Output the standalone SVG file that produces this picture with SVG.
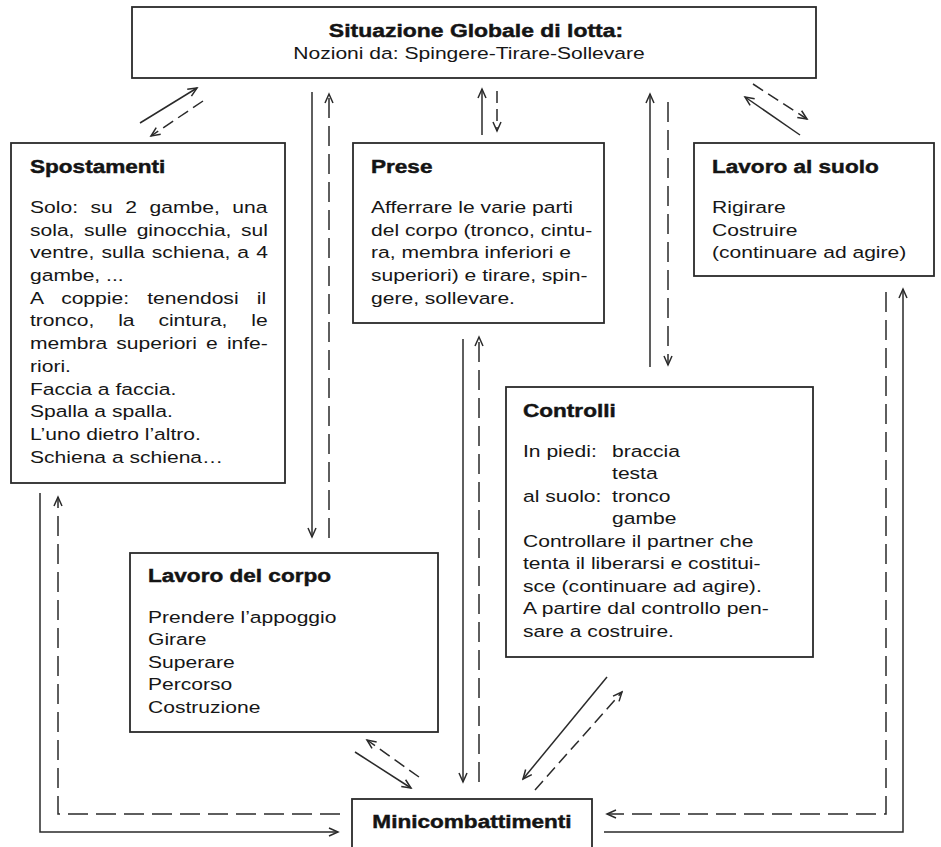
<svg xmlns="http://www.w3.org/2000/svg" width="941" height="847" viewBox="0 0 941 847">
<defs>
<style>
.box{fill:#fff;stroke:#2a2a2a;stroke-width:1.8}
.tb{font-family:"Liberation Sans",Arial,sans-serif;font-weight:bold;font-size:18.5px;fill:#141414;stroke:#141414;stroke-width:0.45}
.tx{font-family:"Liberation Sans",Arial,sans-serif;font-size:17px;fill:#161616}
.s{fill:none;stroke:#2a2a2a;stroke-width:1.5}
.d{fill:none;stroke:#2a2a2a;stroke-width:1.5;stroke-dasharray:20 8}
.dd{fill:none;stroke:#2a2a2a;stroke-width:1.5;stroke-dasharray:12 6}
</style>
<marker id="ah" markerWidth="12" markerHeight="10" refX="10" refY="5" orient="auto" markerUnits="userSpaceOnUse" viewBox="0 0 12 10">
<path d="M1,1 L10,5 L1,9" fill="none" stroke="#2a2a2a" stroke-width="1.5" stroke-dasharray="none"/>
</marker>
</defs>
<rect width="941" height="847" fill="#fff"/>

<g id="connectors">
<path class="s" d="M140,123 L197,88" marker-end="url(#ah)"/>
<path class="dd" d="M203,101 L151,136" marker-end="url(#ah)"/>
<path class="s" d="M312,92 V537" marker-end="url(#ah)"/>
<path class="d" d="M329,538 V94" marker-end="url(#ah)"/>
<path class="s" d="M482,135 V89" marker-end="url(#ah)"/>
<path class="dd" d="M497,91 V131" marker-end="url(#ah)"/>
<path class="s" d="M650,367 V94" marker-end="url(#ah)"/>
<path class="d" d="M668,102 V365" marker-end="url(#ah)"/>
<path class="s" d="M800,135 L745,97" marker-end="url(#ah)"/>
<path class="dd" d="M753,84 L807,119" marker-end="url(#ah)"/>
<path class="s" d="M463,339 V782" marker-end="url(#ah)"/>
<path class="d" d="M479,782 V337" marker-end="url(#ah)"/>
<path class="s" d="M355,752 L411,788" marker-end="url(#ah)"/>
<path class="dd" d="M419,777 L367,740" marker-end="url(#ah)"/>
<path class="s" d="M607,677 L523,779" marker-end="url(#ah)"/>
<path class="dd" d="M535,790 L622,692" marker-end="url(#ah)"/>
<path class="s" d="M40,493 V832 H338" marker-end="url(#ah)"/>
<path class="d" d="M340,814 H58 V497" marker-end="url(#ah)"/>
<path class="s" d="M604,832 H903 V289" marker-end="url(#ah)"/>
<path class="d" d="M886,292 V814 H607" marker-end="url(#ah)"/>
</g>

<g id="situazione">
<rect class="box" x="132" y="7" width="684" height="71"/>
<g transform="translate(476 0) scale(1.24 1)"><text class="tb" x="0" y="37" text-anchor="middle">Situazione Globale di lotta:</text></g>
<g transform="translate(469 0) scale(1.24 1)"><text class="tx" x="0" y="59" text-anchor="middle">Nozioni da: Spingere-Tirare-Sollevare</text></g>
</g>

<g id="spostamenti">
<rect class="box" x="11" y="143" width="274" height="340"/>
<g transform="translate(30 0) scale(1.22 1)"><text class="tb" x="0" y="173">Spostamenti</text></g>
<g transform="translate(30 0) scale(1.24 1)">
<text class="tx" x="0" y="213" style="word-spacing:5.4px">Solo: su 2 gambe, una</text>
<text class="tx" x="0" y="235.7" style="word-spacing:2.9px">sola, sulle ginocchia, sul</text>
<text class="tx" x="0" y="258.4" style="word-spacing:1px">ventre, sulla schiena, a 4</text>
<text class="tx" x="0" y="281.1">gambe, ...</text>
<text class="tx" x="0" y="303.8" style="word-spacing:10px">A coppie: tenendosi il</text>
<text class="tx" x="0" y="326.5" style="word-spacing:14.5px">tronco, la cintura, le</text>
<text class="tx" x="0" y="349.2" style="word-spacing:2.6px">membra superiori e infe-</text>
<text class="tx" x="0" y="371.9">riori.</text>
<text class="tx" x="0" y="394.6">Faccia a faccia.</text>
<text class="tx" x="0" y="417.3">Spalla a spalla.</text>
<text class="tx" x="0" y="440">L’uno dietro l’altro.</text>
<text class="tx" x="0" y="462.7">Schiena a schiena…</text>
</g>
</g>

<g id="prese">
<rect class="box" x="353" y="143" width="251" height="180"/>
<g transform="translate(371 0) scale(1.22 1)"><text class="tb" x="0" y="173">Prese</text></g>
<g transform="translate(371 0) scale(1.24 1)">
<text class="tx" x="0" y="213">Afferrare le varie parti</text>
<text class="tx" x="0" y="235.7">del corpo (tronco, cintu-</text>
<text class="tx" x="0" y="258.4">ra, membra inferiori e</text>
<text class="tx" x="0" y="281.1">superiori) e tirare, spin-</text>
<text class="tx" x="0" y="303.8">gere, sollevare.</text>
</g>
</g>

<g id="lavoro-suolo">
<rect class="box" x="694" y="143" width="240" height="133"/>
<g transform="translate(712 0) scale(1.22 1)"><text class="tb" x="0" y="173">Lavoro al suolo</text></g>
<g transform="translate(712 0) scale(1.24 1)">
<text class="tx" x="0" y="213">Rigirare</text>
<text class="tx" x="0" y="235.7">Costruire</text>
<text class="tx" x="0" y="258.4">(continuare ad agire)</text>
</g>
</g>

<g id="controlli">
<rect class="box" x="506" y="387" width="307" height="270"/>
<g transform="translate(523 0) scale(1.22 1)"><text class="tb" x="0" y="417">Controlli</text></g>
<g transform="translate(523 0) scale(1.24 1)">
<text class="tx" x="0" y="457">In piedi:</text>
<text class="tx" x="71.8" y="457">braccia</text>
<text class="tx" x="71.8" y="479.5">testa</text>
<text class="tx" x="0" y="502">al suolo:</text>
<text class="tx" x="71.8" y="502">tronco</text>
<text class="tx" x="71.8" y="524.5">gambe</text>
<text class="tx" x="0" y="547">Controllare il partner che</text>
<text class="tx" x="0" y="569.5">tenta il liberarsi e costitui-</text>
<text class="tx" x="0" y="592">sce (continuare ad agire).</text>
<text class="tx" x="0" y="614.5">A partire dal controllo pen-</text>
<text class="tx" x="0" y="637">sare a costruire.</text>
</g>
</g>

<g id="lavoro-corpo">
<rect class="box" x="130" y="553" width="308" height="179"/>
<g transform="translate(148 0) scale(1.22 1)"><text class="tb" x="0" y="582">Lavoro del corpo</text></g>
<g transform="translate(148 0) scale(1.24 1)">
<text class="tx" x="0" y="623">Prendere l’appoggio</text>
<text class="tx" x="0" y="645.5">Girare</text>
<text class="tx" x="0" y="668">Superare</text>
<text class="tx" x="0" y="690.5">Percorso</text>
<text class="tx" x="0" y="713">Costruzione</text>
</g>
</g>

<g id="minicombattimenti">
<rect class="box" x="352" y="799" width="240" height="70"/>
<g transform="translate(472 0) scale(1.22 1)"><text class="tb" x="0" y="828" text-anchor="middle">Minicombattimenti</text></g>
</g>
</svg>
